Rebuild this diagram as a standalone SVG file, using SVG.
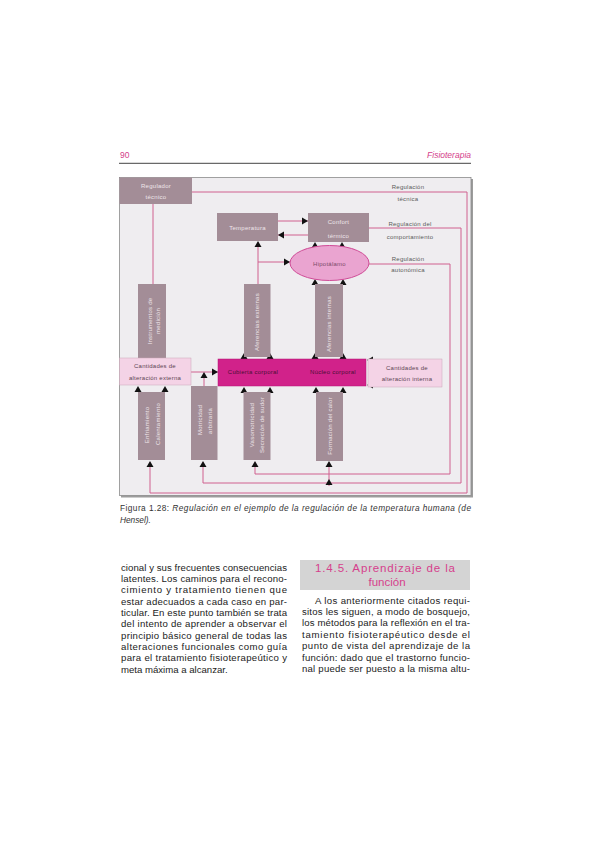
<svg xmlns="http://www.w3.org/2000/svg" xmlns:xlink="http://www.w3.org/1999/xlink" width="599" height="848" viewBox="0 0 599 848">
<style>
.t{font-family:"Liberation Sans",Arial,sans-serif;font-size:6px;letter-spacing:0.25px;text-anchor:middle}
.lt{fill:#efe5ea}
.dk{fill:#5c4553}
.lb{fill:#5a5a5a}
.box{fill:#a38d97}
.pk{fill:#f4d3e6;stroke:#c9a6b8;stroke-width:0.5}
.ln{fill:none;stroke:#d0608f;stroke-width:1}
.ah{fill:#111}
.body{font-family:"Liberation Sans",Arial,sans-serif;font-size:9.6px;fill:#222}
.cap{font-family:"Liberation Sans",Arial,sans-serif;font-size:8.3px;fill:#333}
.hd{font-family:"Liberation Sans",Arial,sans-serif;font-size:11.5px;fill:#d63f8c;text-anchor:middle}
</style>
<defs>
<path id="ah" d="M0,0 L-3.5,6 L3.5,6 Z"/>
</defs>
<rect width="599" height="848" fill="#ffffff"/>

<!-- page header -->
<text x="120" y="158" font-family="Liberation Sans,Arial,sans-serif" font-size="8.5" fill="#d43d8a">90</text>
<text x="471" y="158" font-family="Liberation Sans,Arial,sans-serif" font-size="8.5" font-style="italic" fill="#d43d8a" text-anchor="end">Fisioterapia</text>
<line x1="119" y1="163.3" x2="471" y2="163.3" stroke="#444" stroke-width="1"/>

<!-- frame -->
<rect x="121" y="179" width="352" height="318.5" fill="#9c9c9c"/>
<rect x="119.5" y="177.5" width="351.5" height="318" fill="#efedf0" stroke="#8a8a8a" stroke-width="0.8"/>

<!-- connectors -->
<g id="connectors">
<path class="ln" d="M192,192 H467 V493 H150 V462"/>
<path class="ln" d="M369,228 H461 V483 H203 V462"/>
<path class="ln" d="M369,264 H450 V474 H255 V462"/>
<path class="ln" d="M329,462 V486"/>
<path class="ln" d="M153,204 V284"/>
<path class="ln" d="M258,284 V242"/>
<path class="ln" d="M258,262 H290"/>
<path class="ln" d="M278,221 H308"/>
<path class="ln" d="M308,235 H278"/>
<path class="ln" d="M191,372 H218"/>
<path class="ln" d="M204,386 V373"/>
<g class="ah">
<use xlink:href="#ah" transform="translate(258,241)"/>
<use xlink:href="#ah" transform="translate(290,262) rotate(90)"/>
<use xlink:href="#ah" transform="translate(308,221) rotate(90)"/>
<use xlink:href="#ah" transform="translate(278,235) rotate(-90)"/>
<use xlink:href="#ah" transform="translate(315,242)"/>
<use xlink:href="#ah" transform="translate(342,242)"/>
<use xlink:href="#ah" transform="translate(315,279)"/>
<use xlink:href="#ah" transform="translate(343,279)"/>
<use xlink:href="#ah" transform="translate(315,353)"/>
<use xlink:href="#ah" transform="translate(343,353)"/>
<use xlink:href="#ah" transform="translate(244,353)"/>
<use xlink:href="#ah" transform="translate(270,353)"/>
<use xlink:href="#ah" transform="translate(218,372) rotate(90)"/>
<use xlink:href="#ah" transform="translate(204,372)"/>
<use xlink:href="#ah" transform="translate(367,360) rotate(-90)"/>
<use xlink:href="#ah" transform="translate(367,385) rotate(-90)"/>
<use xlink:href="#ah" transform="translate(138,386)"/>
<use xlink:href="#ah" transform="translate(165,386)"/>
<use xlink:href="#ah" transform="translate(244,387)"/>
<use xlink:href="#ah" transform="translate(270,387)"/>
<use xlink:href="#ah" transform="translate(316,387)"/>
<use xlink:href="#ah" transform="translate(343,387)"/>
<use xlink:href="#ah" transform="translate(150,461)"/>
<use xlink:href="#ah" transform="translate(203,461)"/>
<use xlink:href="#ah" transform="translate(255,461)"/>
<use xlink:href="#ah" transform="translate(329,461)"/>
<use xlink:href="#ah" transform="translate(329,479)"/>
</g>
<text class="t lb" x="408" y="188.5">Regulación</text>
<text class="t lb" x="408" y="201">técnica</text>
<text class="t lb" x="410" y="225.5">Regulación del</text>
<text class="t lb" x="410" y="238.5">comportamiento</text>
<text class="t lb" x="408" y="260.5">Regulación</text>
<text class="t lb" x="408" y="272">autonómica</text>
</g>

<!-- nodes -->
<g id="regulador">
<rect class="box" x="119.5" y="177.5" width="72.5" height="26.5"/>
<text class="t lt" x="156" y="187.5">Regulador</text>
<text class="t lt" x="156" y="198.5">técnico</text>
</g>
<g id="temperatura">
<rect class="box" x="217" y="213" width="61" height="28"/>
<text class="t lt" x="247.5" y="229.5">Temperatura</text>
</g>
<g id="confort">
<rect class="box" x="308" y="213" width="61" height="29"/>
<text class="t lt" x="338.5" y="224">Confort</text>
<text class="t lt" x="338.5" y="237.5">térmico</text>
</g>
<g id="hipotalamo">
<ellipse cx="329.5" cy="263" rx="39.5" ry="17.5" fill="#eaa4d0" stroke="#cf4b96" stroke-width="1"/>
<text class="t" x="329.5" y="265.5" fill="#7b4a68">Hipotálamo</text>
</g>
<g id="instrumentos">
<rect class="box" x="138" y="284" width="28" height="74"/>
<text class="t lt" transform="translate(151.7,321) rotate(-90)">Instrumentos de</text>
<text class="t lt" transform="translate(159.9,321) rotate(-90)">medición</text>
</g>
<g id="aferencias-externas">
<rect class="box" x="244" y="284" width="26.5" height="73"/>
<text class="t lt" transform="translate(259.4,322) rotate(-90)">Aferencias externas</text>
</g>
<g id="aferencias-internas">
<rect class="box" x="315" y="284" width="28" height="73"/>
<text class="t lt" transform="translate(331.3,324) rotate(-90)">Aferencias internas</text>
</g>
<g id="cantidades-externa">
<rect class="pk" x="119.5" y="358" width="71.5" height="27"/>
<text class="t dk" x="155" y="368">Cantidades de</text>
<text class="t dk" x="155" y="379.5">alteración externa</text>
</g>
<g id="cuerpo">
<rect x="218" y="359" width="148" height="27" fill="#d1228a" stroke="#b51675" stroke-width="0.5"/>
<text class="t" x="253" y="374" fill="#4a1034">Cubierta corporal</text>
<text class="t" x="333" y="374" fill="#4a1034">Núcleo corporal</text>
</g>
<g id="cantidades-interna">
<rect class="pk" x="368" y="359" width="74" height="28"/>
<text class="t dk" x="407" y="369.5">Cantidades de</text>
<text class="t dk" x="407" y="380.5">alteración interna</text>
</g>
<g id="enfriamiento">
<rect class="box" x="138" y="392" width="27" height="68"/>
<text class="t lt" transform="translate(149,425) rotate(-90)">Enfriamiento</text>
<text class="t lt" transform="translate(159.5,424) rotate(-90)">Calentamiento</text>
</g>
<g id="motricidad">
<rect class="box" x="191" y="386" width="26.5" height="74"/>
<text class="t lt" transform="translate(202.2,420) rotate(-90)">Motricidad</text>
<text class="t lt" transform="translate(212.2,421) rotate(-90)">arbitraria</text>
</g>
<g id="vasomotricidad">
<rect class="box" x="243.5" y="392" width="27" height="68"/>
<text class="t lt" transform="translate(253.9,425) rotate(-90)">Vasomotricidad</text>
<text class="t lt" transform="translate(263.9,425) rotate(-90)">Secreción de sudor</text>
</g>
<g id="formacion">
<rect class="box" x="316" y="392" width="27" height="69"/>
<text class="t lt" transform="translate(331.5,426) rotate(-90)">Formación del calor</text>
</g>

<!-- caption -->
<text class="cap" x="120" y="511" textLength="351" lengthAdjust="spacing">Figura 1.28: <tspan font-style="italic">Regulación en el ejemplo de la regulación de la temperatura humana (de</tspan></text>
<text class="cap" x="120" y="522.5" font-style="italic">Hensel).</text>

<!-- left column -->
<g class="body">
<text x="121" y="570.6" textLength="166" lengthAdjust="spacing">cional y sus frecuentes consecuencias</text>
<text x="121" y="581.9" textLength="166" lengthAdjust="spacing">latentes. Los caminos para el recono-</text>
<text x="121" y="593.3" textLength="166" lengthAdjust="spacing">cimiento y tratamiento tienen que</text>
<text x="121" y="604.6" textLength="166" lengthAdjust="spacing">estar adecuados a cada caso en par-</text>
<text x="121" y="615.9" textLength="166" lengthAdjust="spacing">ticular. En este punto también se trata</text>
<text x="121" y="627.3" textLength="166" lengthAdjust="spacing">del intento de aprender a observar el</text>
<text x="121" y="638.6" textLength="166" lengthAdjust="spacing">principio básico general de todas las</text>
<text x="121" y="649.9" textLength="166" lengthAdjust="spacing">alteraciones funcionales como guía</text>
<text x="121" y="661.3" textLength="166" lengthAdjust="spacing">para el tratamiento fisioterapeútico y</text>
<text x="121" y="672.6">meta máxima a alcanzar.</text>
</g>

<!-- right column -->
<rect x="300" y="560" width="170" height="30" fill="#d4d4d4"/>
<text class="hd" x="385" y="571.5" textLength="140" lengthAdjust="spacing">1.4.5. Aprendizaje de la</text>
<text class="hd" x="387" y="585.5">función</text>
<g class="body">
<text x="315" y="603.5" textLength="155" lengthAdjust="spacing">A los anteriormente citados requi-</text>
<text x="302" y="614.9" textLength="168" lengthAdjust="spacing">sitos les siguen, a modo de bosquejo,</text>
<text x="302" y="626.3" textLength="168" lengthAdjust="spacing">los métodos para la reflexión en el tra-</text>
<text x="302" y="637.7" textLength="168" lengthAdjust="spacing">tamiento fisioterapéutico desde el</text>
<text x="302" y="649.1" textLength="168" lengthAdjust="spacing">punto de vista del aprendizaje de la</text>
<text x="302" y="660.5" textLength="168" lengthAdjust="spacing">función: dado que el trastorno funcio-</text>
<text x="302" y="671.9" textLength="168" lengthAdjust="spacing">nal puede ser puesto a la misma altu-</text>
</g>
</svg>
